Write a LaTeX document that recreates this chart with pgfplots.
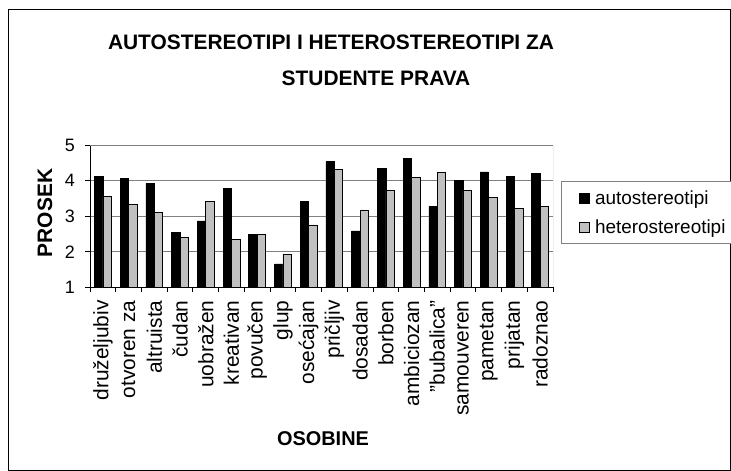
\documentclass[border=0pt]{standalone}
\usepackage{fontspec}
\setmainfont{Liberation Sans}
\usepackage{pgfplots}
\pgfplotsset{compat=1.18}
\definecolor{hetgray}{RGB}{192,192,192}
\definecolor{gridgray}{RGB}{128,128,128}
\begin{document}
\begin{tikzpicture}
\useasboundingbox (0,0) rectangle (731bp,471bp);
\draw[line width=1bp] (8bp,1bp) rectangle (730bp,461bp);
\node[anchor=base, font=\fontsize{21}{21}\selectfont\bfseries] at (331bp,421.7bp) {AUTOSTEREOTIPI I HETEROSTEREOTIPI ZA};
\node[anchor=base, font=\fontsize{21}{21}\selectfont\bfseries] at (376bp,385.3bp) {STUDENTE PRAVA};
\node[rotate=90, font=\fontsize{21}{21}\selectfont\bfseries] at (45bp,258bp) {PROSEK};
\node[anchor=base, font=\fontsize{20}{20}\selectfont\bfseries] at (323bp,26bp) {OSOBINE};
\begin{axis}[
  at={(90bp,183.7bp)}, anchor=south west,
  scale only axis, width=463bp, height=142bp,
  xmin=-0.5, xmax=17.5, ymin=1, ymax=5,
  axis x line*=bottom, axis y line*=left,
  axis line style={black, line width=0.8bp, -},
  ytick={1,2,3,4,5},
  /pgf/number format/assume math mode=true,
  yticklabel style={font=\fontsize{18}{18}\selectfont, inner sep=1bp, xshift=-9bp},
  ymajorgrids, grid style={gridgray, line width=0.8bp},
  xtick={-0.5,0.5,...,17.5}, xticklabels={},
  extra x ticks={0,1,2,3,4,5,6,7,8,9,10,11,12,13,14,15,16,17},
  extra x tick labels={druželjubiv,otvoren za,altruista,čudan,uobražen,kreativan,povučen,glup,osećajan,pričljiv,dosadan,borben,ambiciozan,\symbol{34}bubalica\symbol{34},samouveren,pametan,prijatan,radoznao},
  extra x tick style={major tick length=0pt, grid=none,
     tick label style={rotate=90, anchor=east, inner sep=0pt, xshift=-13bp, font=\fontsize{21}{21}\selectfont}},
  tick align=outside, major tick length=5bp,
  tick style={black, line width=0.8bp},
  ybar=0pt, bar width=8.4bp,
  legend image code/.code={\draw[#1, line width=0.6bp] (0bp,-5bp) rectangle (10bp,5bp); \path (13bp,0bp);},
  legend cell align=left,
  legend style={at={(1.0173,0.7486)}, anchor=north west, draw=gridgray, line width=0.8bp,
     font=\fontsize{19}{19}\selectfont, inner xsep=18bp, inner ysep=7bp, row sep=10bp},
]
\addplot[fill=black, draw=black, line width=0.6bp] coordinates {
(0,4.13) (1,4.07) (2,3.93) (3,2.55) (4,2.87) (5,3.79) (6,2.48) (7,1.66) (8,3.42)
(9,4.54) (10,2.59) (11,4.34) (12,4.62) (13,3.28) (14,4.01) (15,4.25) (16,4.12) (17,4.20)};
\addlegendentry{autostereotipi}
\addplot[fill=hetgray, draw=black, line width=0.6bp] coordinates {
(0,3.55) (1,3.33) (2,3.10) (3,2.40) (4,3.42) (5,2.35) (6,2.48) (7,1.93) (8,2.76)
(9,4.33) (10,3.18) (11,3.73) (12,4.10) (13,4.24) (14,3.73) (15,3.54) (16,3.22) (17,3.27)};
\addlegendentry{heterostereotipi}
\draw[gridgray, line width=0.8bp] (rel axis cs:0,1) -- (rel axis cs:1,1) -- (rel axis cs:1,0);
\end{axis}
\end{tikzpicture}
\end{document}
